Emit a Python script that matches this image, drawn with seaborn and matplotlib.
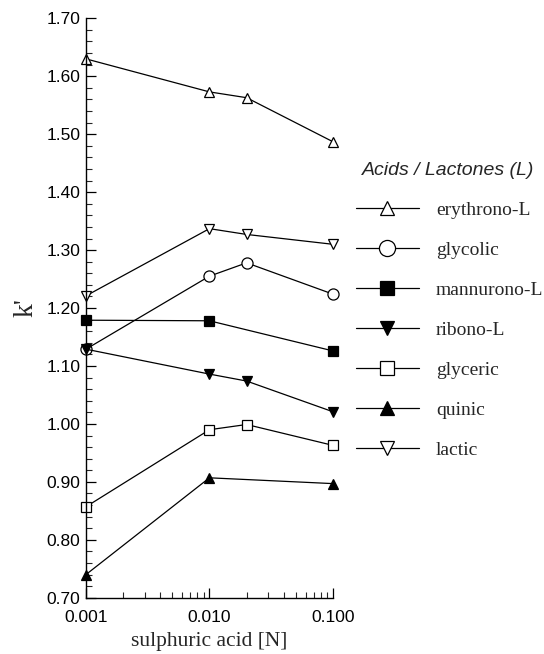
import numpy as np
import pandas as pd
import matplotlib
matplotlib.use('Agg')
import matplotlib.pyplot as plt
from matplotlib.ticker import FixedLocator, LogLocator, MultipleLocator, NullFormatter, FormatStrFormatter
import seaborn as sns

# sulphuric acid concentrations [N]
acid = [0.001, 0.010, 0.020, 0.100]

# k' values per acid / lactone (nan = not measured)
erythrono = [1.630, 1.573, 1.563, 1.487]
glycolic = [1.129, 1.255, 1.278, 1.224]
mannurono = [1.179, 1.178, np.nan, 1.126]
ribono = [1.129, 1.086, 1.074, 1.021]
glyceric = [0.857, 0.990, 0.999, 0.963]
quinic = [0.740, 0.907, np.nan, 0.897]
lactic = [1.221, 1.337, 1.327, 1.310]

names = ['erythrono-L', 'glycolic', 'mannurono-L', 'ribono-L', 'glyceric', 'quinic', 'lactic']
values = [erythrono, glycolic, mannurono, ribono, glyceric, quinic, lactic]
markers = ['^', 'o', 's', 'v', 's', '^', 'v']
filled = [False, False, True, True, False, True, False]

rows = []
for name, vals in zip(names, values):
    for x, y in zip(acid, vals):
        rows.append({'acid': x, 'k': y, 'compound': name})
df = pd.DataFrame(rows).dropna()

sns.set_style('ticks')
plt.rcParams['font.family'] = ['Liberation Sans', 'DejaVu Sans']

fig = plt.figure(figsize=(5.44, 6.54), dpi=100)
ax = fig.add_axes([0.158, 0.086, 0.454, 0.886])

for name, m, f in zip(names, markers, filled):
    sub = df[df['compound'] == name]
    sns.lineplot(data=sub, x='acid', y='k', ax=ax, color='black', linewidth=0.9,
                 marker=m, markersize=7 if m != 'o' else 8,
                 markerfacecolor='black' if f else 'white',
                 markeredgecolor='black', markeredgewidth=0.9,
                 label=name, legend=False)

ax.set_xscale('log')
ax.set_xlim(0.001, 0.1)
ax.set_ylim(0.70, 1.70)
ax.xaxis.set_major_locator(FixedLocator([0.001, 0.01, 0.1]))
ax.xaxis.set_minor_locator(LogLocator(base=10, subs=np.arange(2, 10)))
ax.xaxis.set_minor_formatter(NullFormatter())
ax.set_xticklabels(['0.001', '0.010', '0.100'])
ax.yaxis.set_major_locator(MultipleLocator(0.1))
ax.yaxis.set_minor_locator(MultipleLocator(0.02))
ax.yaxis.set_major_formatter(FormatStrFormatter('%.2f'))
ax.tick_params(which='major', direction='in', length=7, width=0.9, labelsize=12.5, colors='black')
ax.tick_params(axis='x', which='major', pad=9)
ax.tick_params(axis='y', which='major', pad=4)
ax.tick_params(which='minor', direction='in', length=4, width=0.8)
for side in ['top', 'right']:
    ax.spines[side].set_visible(False)
for side in ['left', 'bottom']:
    ax.spines[side].set_linewidth(1.0)
    ax.spines[side].set_color('black')
for line in ax.lines:
    line.set_clip_on(False)

ax.set_xlabel('sulphuric acid [N]', family='Liberation Serif', fontsize=15.5, labelpad=5)
ax.set_ylabel("k'", family='Liberation Serif', fontsize=20, labelpad=6)

handles, labels = ax.get_legend_handles_labels()
leg = fig.legend(handles, labels, loc='upper left', bbox_to_anchor=(0.655, 0.752),
                 frameon=False, handlelength=3.2, labelspacing=1.15, markerscale=1.45,
                 handletextpad=0.9, borderpad=0, borderaxespad=0,
                 prop={'family': 'Liberation Serif', 'size': 14},
                 title='Acids / Lactones (L)',
                 title_fontproperties={'family': 'Liberation Sans', 'style': 'italic', 'size': 14})
leg._legend_box.align = 'left'
leg.get_title().set_position((6, 0))

fig.savefig('out.png', dpi=100)
